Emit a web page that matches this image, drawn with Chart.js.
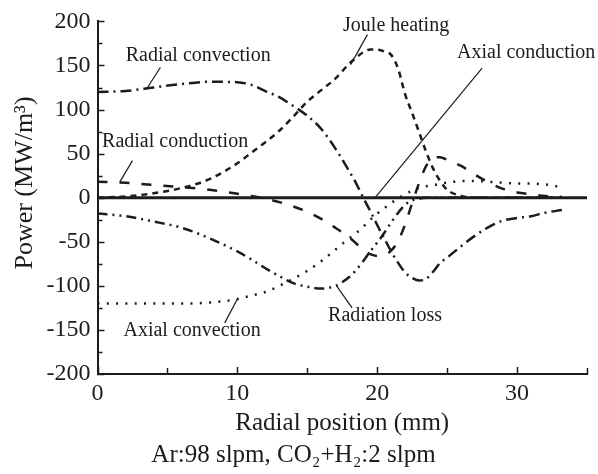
<!DOCTYPE html>
<html><head><meta charset="utf-8">
<script src="https://cdn.jsdelivr.net/npm/chart.js@4"></script>
<style>html,body{margin:0;padding:0;background:#fff}</style>
</head><body>
<canvas id="c" width="598" height="474" style="display:block;width:598px;height:474px"></canvas>
<script>
// ---- data ----
const xPos = [0,2,4,6,8,10,11,12,13,14,15,16,17,18,18.5,19,19.5,20,20.5,21,21.5,22,22.5,23,23.5,24,24.5,25,26,27,28,29,30,31,32,33.2,34,35];
const radialConvection = [120,121,125,129,131.5,131,128,121,114,104,93,78,56,30,16,0,-15,-31,-46,-61,-74,-85,-91,-94,-92,-84,-74,-68,-55,-43,-33,-26,-23,-21,-17,-14,null,null];
const jouleHeating = [0,1.5,5,11,21,39,51,63,76,92,109,122,135,152,159,165,168,168,166,162,146,117,96,74,52,33,19,9,2,0,0,0,0,0,0,0,null,null];
const radialConduction = [18,17,14.5,12,9,4.5,2,-1,-5,-10,-16,-24,-34,-45,-52,-59,-64,-66,-65,-60,-49,-30,-6,17,36,45,46,43,36,26,17,10,6,4,2,1,null,null];
const radiationLoss = [-18,-21,-27,-34,-46,-61,-70,-80,-89,-97,-101,-103,-100,-90,-82,-72,-61,-51,-40,-28,-17,-8,-3,-1,0,0,0,0,0,0,0,0,0,0,0,0,null,null];
const axialConvection = [-120,-120,-120,-120,-119,-115,-111,-107,-100,-92,-83,-72,-59,-46,-40,-33,-25,-18,-12,-6,-1,4,8,11,13,14,16,17,19,19,18,17,16,16,15,12,null,null];
const axialConduction = [0,0,0,0,0,0,0,0,0,0,0,0,0,0,0,0,0,0,0,0,0,0,0,0,0,0,0,0,0,0,0,0,0,0,0,0,0,0];
const seriesNames = ['Axial conduction','Radial convection','Joule heating','Radial conduction','Radiation loss','Axial convection'];
const yTickValues = [-200,-150,-100,-50,0,50,100,150,200];
const xTickValues = [0,10,20,30];

// callout labels: text centre and leader line, in data units
const callouts = [
  {text:'Radial convection', at:[7.2,161], from:[4.5,148], to:[3.5,123]},
  {text:'Radial conduction', at:[5.55,64], from:[2.5,42], to:[1.6,18]},
  {text:'Joule heating', at:[21.35,195], from:[19.3,185], to:[18.1,151]},
  {text:'Axial conduction', at:[30.65,164], from:[27.5,147], to:[19.85,0]},
  {text:'Axial convection', at:[6.76,-151], from:[9.1,-142], to:[10,-115]},
  {text:'Radiation loss', at:[20.56,-134], from:[18.2,-125], to:[17.1,-100]}
];
const yTitle = 'Power (MW/m\u00B3)';

const FONT = '"Liberation Serif","Times New Roman",serif';
const INK = '#1c1c1c';
const pts = v => xPos.map((x,i)=>({x:x, y:v[i]}));

const styles = [
  {w:3, dash:[]},
  {w:2.5, dash:[11,5,2,5]},
  {w:2.5, dash:[6,5]},
  {w:2.5, dash:[10,12]},
  {w:2.5, dash:[10,5,2,5,2,5]},
  {w:2.5, dash:[2,7.3]}
];
const values = [axialConduction, radialConvection, jouleHeating, radialConduction, radiationLoss, axialConvection];

const innerTicks = {
  id:'innerTicks',
  afterDraw(chart){
    const {ctx, chartArea:a, scales:{x,y}} = chart;
    ctx.save();
    ctx.strokeStyle = INK; ctx.lineWidth = 1.5;
    y.ticks.forEach(t=>{
      const py = Math.round(y.getPixelForValue(t.value))+0.5;
      const len = t.value%50===0 ? 7 : 5;
      ctx.beginPath(); ctx.moveTo(a.left, py); ctx.lineTo(a.left+len, py); ctx.stroke();
    });
    x.ticks.forEach(t=>{
      const px = Math.round(x.getPixelForValue(t.value))+0.5;
      const len = t.value%10===0 ? 7 : 6;
      ctx.beginPath(); ctx.moveTo(px, a.bottom); ctx.lineTo(px, a.bottom-len); ctx.stroke();
    });
    // y-axis title
    ctx.fillStyle = INK;
    ctx.font = '26px ' + FONT;
    ctx.translate(32, 183);
    ctx.rotate(-Math.PI/2);
    ctx.textAlign = 'center'; ctx.textBaseline = 'alphabetic';
    ctx.fillText(yTitle, 0, 0);
    ctx.restore();
  }
};

const calloutPlugin = {
  id:'callouts',
  afterDraw(chart){
    const {ctx, scales:{x,y}} = chart;
    ctx.save();
    ctx.fillStyle = INK; ctx.strokeStyle = INK; ctx.lineWidth = 1.2;
    ctx.font = '20px ' + FONT;
    ctx.textAlign = 'center'; ctx.textBaseline = 'middle';
    callouts.forEach(c=>{
      ctx.fillText(c.text, x.getPixelForValue(c.at[0]), y.getPixelForValue(c.at[1]));
      ctx.beginPath();
      ctx.moveTo(x.getPixelForValue(c.from[0]), y.getPixelForValue(c.from[1]));
      ctx.lineTo(x.getPixelForValue(c.to[0]), y.getPixelForValue(c.to[1]));
      ctx.stroke();
    });
    ctx.restore();
  }
};

new Chart(document.getElementById('c'), {
  type:'line',
  data:{
    datasets: seriesNames.map((n,i)=>({
      label:n, data:pts(values[i]),
      borderColor:INK, borderWidth:styles[i].w, borderDash:styles[i].dash,
      pointRadius:0, fill:false, cubicInterpolationMode:'monotone', borderCapStyle:'butt', spanGaps:false
    }))
  },
  options:{
    responsive:false, animation:false, devicePixelRatio:1,
    layout:{padding:{top:20,right:11,left:0,bottom:0}},
    plugins:{
      legend:{display:false}, tooltip:{enabled:false},
      title:{display:true, position:'bottom', text:'Ar:98 slpm, CO\u2082+H\u2082:2 slpm', color:INK,
        font:{family:FONT,size:25,weight:'normal'}, padding:{top:2,bottom:4}}
    },
    scales:{
      x:{
        type:'linear', min:0, max:35,
        afterBuildTicks(s){ s.ticks = [0,5,10,15,20,25,30,35].map(v=>({value:v})); },
        ticks:{callback:v=> xTickValues.includes(v) ? String(v) : '', color:INK, font:{family:FONT,size:24}, padding:5, maxRotation:0, autoSkip:false},
        grid:{display:false, drawTicks:false},
        border:{display:true, color:INK, width:2},
        title:{display:true, text:'Radial position (mm)', color:INK, font:{family:FONT,size:25}, padding:{top:0,bottom:0}},
        afterFit(s){ s.height = 64; }
      },
      y:{
        type:'linear', min:-200, max:200,
        ticks:{stepSize:25, callback:v=> yTickValues.includes(v) ? String(v) : '', color:INK, font:{family:FONT,size:24}, padding:7, autoSkip:false},
        grid:{display:false, drawTicks:false},
        border:{display:true, color:INK, width:2},
        title:{display:false},
        afterFit(s){ s.width = 97.5; }
      }
    }
  },
  plugins:[innerTicks, calloutPlugin]
});
</script>
</body></html>
